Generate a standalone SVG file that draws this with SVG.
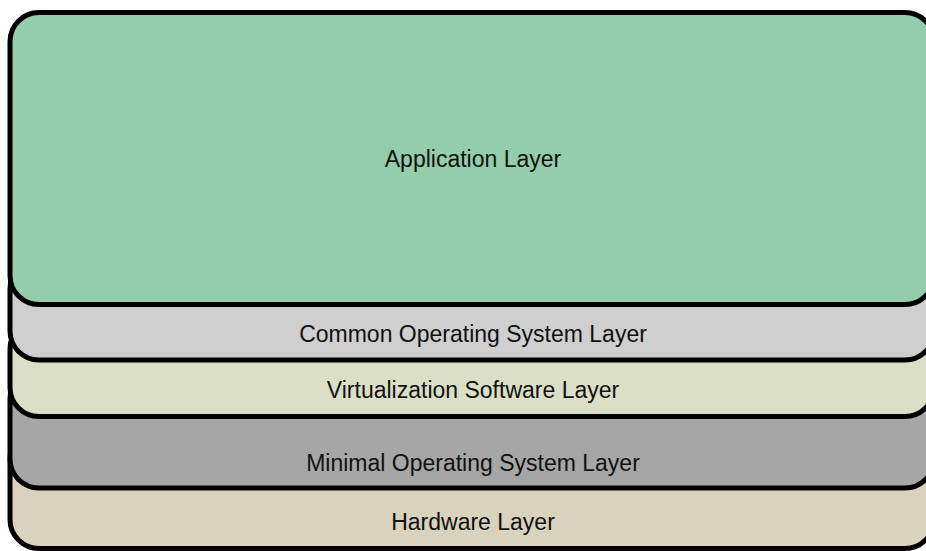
<svg xmlns="http://www.w3.org/2000/svg" width="926" height="551" viewBox="0 0 926 551">
  <style>
    .layer rect { stroke: #000; stroke-width: 5; }
    .layer text { font-family: "Liberation Sans", Arial, sans-serif; font-size: 23px; fill: #111; text-anchor: middle; }
  </style>
  <rect width="926" height="551" fill="#fff"/>
  <!-- layers are painted bottom-up so each upper layer hides the top of the one below -->
  <g id="hardware-layer" class="layer">
    <rect x="10" y="430" width="924" height="118.5" rx="29" fill="#d9d3bd"/>
    <text x="473" y="530">Hardware Layer</text>
  </g>
  <g id="minimal-os-layer" class="layer">
    <rect x="10" y="370" width="924" height="118" rx="29" fill="#a6a6a6"/>
    <text x="473" y="471">Minimal Operating System Layer</text>
  </g>
  <g id="virtualization-layer" class="layer">
    <rect x="10" y="320" width="924" height="96.5" rx="29" fill="#dadfc6"/>
    <text x="473" y="398">Virtualization Software Layer</text>
  </g>
  <g id="common-os-layer" class="layer">
    <rect x="10" y="260" width="924" height="100" rx="29" fill="#cfcfcf"/>
    <text x="473" y="342">Common Operating System Layer</text>
  </g>
  <g id="application-layer" class="layer">
    <rect x="10" y="12.5" width="924" height="292" rx="29" fill="#93cdab"/>
    <text x="473" y="167">Application Layer</text>
  </g>
</svg>
